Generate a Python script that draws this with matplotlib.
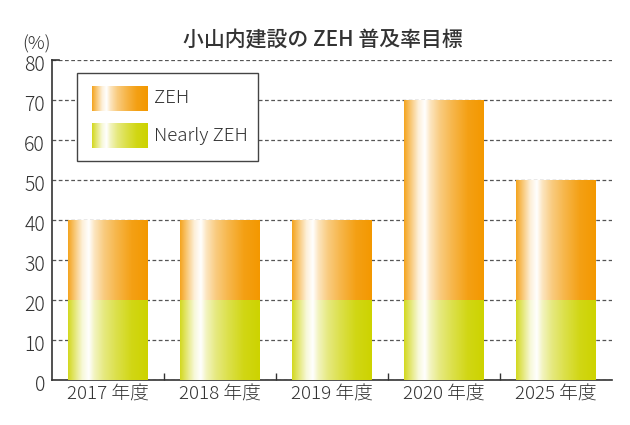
import numpy as np
import matplotlib
matplotlib.use("Agg")
import matplotlib.pyplot as plt
from matplotlib.colors import to_rgb
from matplotlib.patches import Rectangle
from matplotlib.transforms import ScaledTranslation

plt.rcParams['font.family'] = ['Noto Sans CJK JP', 'DejaVu Sans']

years = ["2017 年度", "2018 年度", "2019 年度", "2020 年度", "2025 年度"]
nearly_zeh = [20, 20, 20, 20, 20]
zeh = [20, 20, 20, 50, 30]

orange = "#f39800"
green = "#cdd300"
text_col = "#333333"

# white highlight across the bar width (0 = left edge, 1 = right edge)
stops_t = [0.0, 0.08, 0.18, 0.26, 0.33, 0.45, 0.6, 0.8, 1.0]
stops_w = [0.12, 0.45, 0.85, 1.0, 0.75, 0.5, 0.3, 0.08, 0.0]


def gradient(color, n=200):
    t = np.linspace(0, 1, n)
    w = np.interp(t, stops_t, stops_w)[:, None]
    c = np.array(to_rgb(color))[None, :]
    row = c * (1 - w) + w
    return row[None, :, :]


fig = plt.figure(figsize=(6.3, 4.25), dpi=100)
ax = fig.add_axes([52 / 630, 45 / 425, 560 / 630, 320 / 425])

x = np.arange(len(years))
b1 = ax.bar(x, nearly_zeh, width=0.714, color="none", zorder=3)
b2 = ax.bar(x, zeh, width=0.714, bottom=nearly_zeh, color="none", zorder=3)

for bars, col in ((b1, green), (b2, orange)):
    for p in bars:
        x0, y0 = p.get_x(), p.get_y()
        ax.imshow(gradient(col), extent=(x0, x0 + p.get_width(), y0, y0 + p.get_height()),
                  aspect="auto", interpolation="bilinear", zorder=3)

ax.set_xlim(-0.5, len(years) - 0.5)
ax.set_ylim(0, 80)
ax.set_yticks(range(0, 81, 10))
ax.set_xticks(x)
ax.set_xticklabels(years)
ax.set_xticks(x[:-1] + 0.5, minor=True)
ax.tick_params(axis="x", which="major", length=0, pad=4, labelsize=13.5, labelcolor=text_col)
ax.tick_params(axis="x", which="minor", direction="in", length=5, width=1, color=text_col)
ax.tick_params(axis="y", length=0, pad=5, labelsize=14, labelcolor=text_col)
shift = ScaledTranslation(0, -3 / 100, fig.dpi_scale_trans)
for lab in ax.get_xticklabels() + ax.get_yticklabels():
    lab.set_fontweight("light")
for lab in ax.get_yticklabels():
    lab.set_transform(lab.get_transform() + shift)

ax.grid(axis="y", linestyle=(0, (3, 2)), color="#555555", linewidth=0.9, zorder=0)
ax.set_axisbelow(True)
for s in ("top", "right"):
    ax.spines[s].set_visible(False)
for s in ("left", "bottom"):
    ax.spines[s].set_color(text_col)
    ax.spines[s].set_linewidth(1.2)
ax.plot([0, 0.012], [1, 1], transform=ax.transAxes, color=text_col, lw=1.2, clip_on=False)

# legend
ax.add_patch(Rectangle((0.0446, 0.684), 0.3234, 0.275, transform=ax.transAxes,
                       facecolor="white", edgecolor="#444444", lw=1, zorder=4))
for (y0, col, lab) in ((0.841, orange, "ZEH"), (0.725, green, "Nearly ZEH")):
    ax.imshow(gradient(col), extent=(0.0714, 0.170, y0, y0 + 0.078), transform=ax.transAxes,
              aspect="auto", interpolation="bilinear", zorder=5)
    ax.text(0.182, y0 + 0.039, lab, transform=ax.transAxes, va="center", ha="left",
            fontsize=13.5, fontweight="light", color=text_col, zorder=6)

fig.text(323 / 630, 1 - 40 / 425, "小山内建設の ZEH 普及率目標", ha="center", va="center",
         fontsize=15, fontweight="medium", color=text_col)
fig.text(36 / 630, 1 - 44 / 425, "(%)", ha="center", va="center", fontsize=13.5,
         fontweight="light", color=text_col)

fig.savefig("out.png", dpi=100)
